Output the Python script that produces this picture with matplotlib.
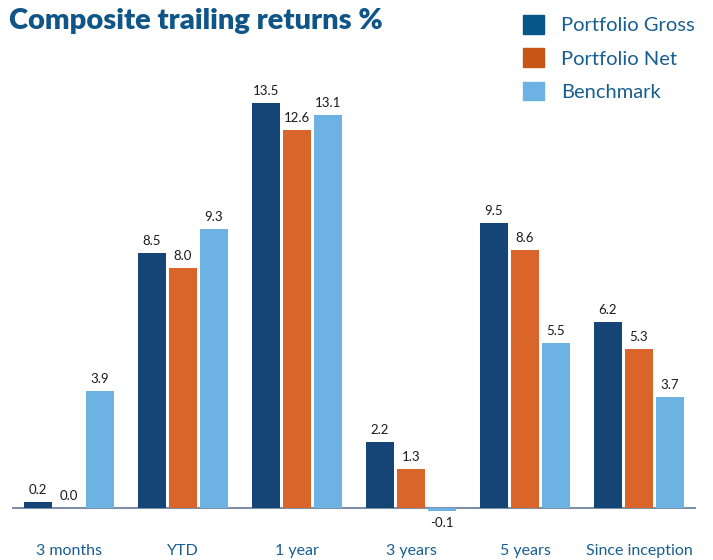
import numpy as np
import matplotlib.pyplot as plt
from matplotlib.patches import Patch

plt.rcParams['font.family'] = ['Lato', 'DejaVu Sans']

# Data
periods = ['3 months', 'YTD', '1 year', '3 years', '5 years', 'Since inception']
gross = [0.2, 8.5, 13.5, 2.2, 9.5, 6.2]
net = [0.0, 8.0, 12.6, 1.3, 8.6, 5.3]
bench = [3.9, 9.3, 13.1, -0.1, 5.5, 3.7]

series = ['Portfolio Gross', 'Portfolio Net', 'Benchmark']
colors = ['#154576', '#D9652A', '#6CB3E3']
legend_colors = ['#07568A', '#C85518', '#6CB3E3']
blue_text = '#185E91'

fig = plt.figure(figsize=(7.13, 5.6), dpi=100)
ax = fig.add_axes([12 / 713, 22 / 560, 684 / 713, 480 / 560])

x = np.arange(len(periods))
pitch = 0.272
width = 0.245
for i, (vals, c) in enumerate(zip([gross, net, bench], colors)):
    bars = ax.bar(x + (i - 1) * pitch, vals, width, color=c, label=series[i])
    ax.bar_label(bars, labels=[f'{v:.1f}' for v in vals], padding=4,
                 fontsize=9.5, color='#1a1a1a')

ax.axhline(0, color='#7F8FA6', lw=1.5, zorder=0)
ax.set_xlim(-0.5, 5.5)
ax.set_ylim(-1, 15)
for s in ax.spines.values():
    s.set_visible(False)
ax.set_yticks([])
ax.set_xticks(x)
ax.set_xticklabels(periods, fontsize=11.5, color=blue_text)
ax.tick_params(axis='x', length=0, pad=4)

fig.text(9 / 713, 1 - 21 / 560, 'Composite trailing returns %', fontsize=21,
         fontweight='heavy', color='#0F5587', va='center', ha='left')

handles = [Patch(color=c) for c in legend_colors]
fig.legend(handles, series, loc='upper left', bbox_to_anchor=(505 / 713, 1 + 3 / 560),
           frameon=False, fontsize=14.5, labelcolor=blue_text, handlelength=1.05,
           handleheight=1.05, handletextpad=0.85, labelspacing=0.7)

fig.savefig('out.png', dpi=100)
